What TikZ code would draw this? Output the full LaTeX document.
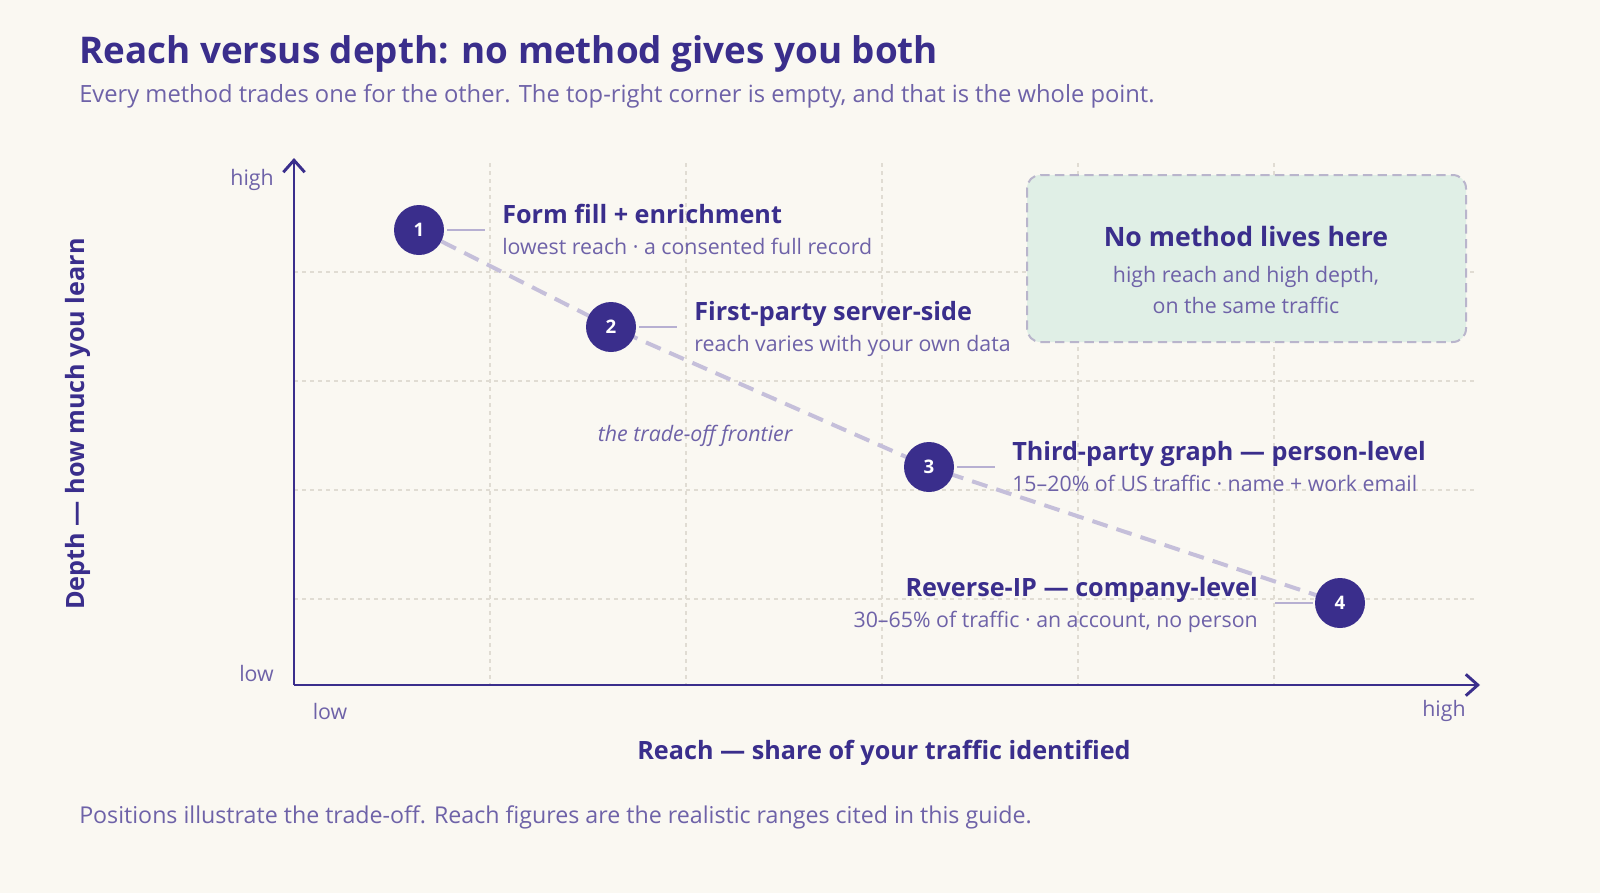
\documentclass[tikz,border=0pt]{standalone}
\usepackage{fontspec}
\setmainfont{Open Sans}
\usetikzlibrary{arrows.meta}
\definecolor{bg}{HTML}{FAF8F2}
\definecolor{ink}{HTML}{3A2E8C}
\definecolor{soft}{HTML}{6E62A8}
\definecolor{grid}{HTML}{E0DCD3}
\definecolor{front}{HTML}{C5BFDA}
\definecolor{boxg}{HTML}{E0EFE6}
\definecolor{boxb}{HTML}{B9B5CC}
\begin{document}
\begin{tikzpicture}[x=0.75pt,y=-0.75pt,
  dot/.style={circle,fill=ink,minimum size=37.5pt,inner sep=0,text=white,font=\bfseries\fontsize{14}{16}\selectfont},
  head/.style={text=ink,font=\bfseries\fontsize{18.9}{21}\selectfont,inner sep=0},
  sub/.style={text=soft,font=\fontsize{16}{18}\selectfont,inner sep=0},
  tick/.style={front!90!ink,line width=1.8pt},
  gl/.style={grid,dashed,line width=0.8pt}]
\fill[bg] (0,0) rectangle (1600,893);
\useasboundingbox (0,0) rectangle (1600,893);
\node[anchor=base west,text=ink,font=\bfseries\fontsize{27.6}{30}\selectfont,inner sep=0] (title) at (79,63) {Reach versus depth: no method gives you both};
\node[anchor=base west,sub,font=\fontsize{17.8}{20}\selectfont] (subt) at (79,102) {Every method trades one for the other. The top-right corner is empty, and that is the whole point.};
% grid
\foreach \x in {490,686,882,1078,1274} \draw[gl] (\x,163) -- (\x,685);
\foreach \y in {272,381,490,599} \draw[gl] (294,\y) -- (1475,\y);
% box
\draw[boxb,fill=boxg,dash pattern=on 7pt off 4pt,line width=1.5pt,rounded corners=10pt] (1027,175) rectangle (1466,342);
\node[head,font=\bfseries\fontsize{20}{22}\selectfont] (bt) at (1246,236) {No method lives here};
\node[sub] (b1) at (1246,277) {high reach and high depth,};
\node[sub] (b2) at (1246,305) {on the same traffic};
% axes
\coordinate (o) at (294,685);
\coordinate (yt) at (294,158);
\coordinate (xt) at (1480,685);
\draw[ink,line width=2.2pt,-{Straight Barb[length=9pt,width=16pt,line width=2.2pt]}] (o) -- (yt);
\draw[ink,line width=2.2pt,-{Straight Barb[length=9pt,width=16pt,line width=2.2pt]}] (o) -- (xt);
\node[sub,anchor=east] (yh) at (274,180) {high};
\node[sub,anchor=east] (yl) at (274,673) {low};
\node[sub] (xl) at (330,711) {low};
\node[sub] (xh) at (1444,711) {high};
\node[head] (xtit) at (884,753) {Reach — share of your traffic identified};
\node[head,rotate=90] (ytit) at (78,424) {Depth — how much you learn};
% dots
\coordinate (c1) at (419,230);
\coordinate (c2) at (611,327);
\coordinate (c3) at (929,467);
\coordinate (c4) at (1340,603);
\draw[front,line width=3pt,dash pattern=on 12pt off 7pt] (c1) -- (c2) -- (c3) -- (c4);
\node[dot] (n1) at (c1) {1};
\node[dot] (n2) at (c2) {2};
\node[dot] (n3) at (c3) {3};
\node[dot] (n4) at (c4) {4};
\node[sub,font=\itshape\fontsize{16}{18}\selectfont] (tf) at (695,436) {the trade-off frontier};
% labels
\draw[tick] (447,230) -- (485,230);
\node[head,anchor=base west] (h1) at (502,223) {Form fill + enrichment};
\node[sub,anchor=base west] (s1) at (502,254) {lowest reach · a consented full record};
\draw[tick] (639,327) -- (677,327);
\node[head,anchor=base west] (h2) at (694,320) {First-party server-side};
\node[sub,anchor=base west] (s2) at (694,351) {reach varies with your own data};
\draw[tick] (957,467) -- (995,467);
\node[head,anchor=base west] (h3) at (1012,460) {Third-party graph — person-level};
\node[sub,anchor=base west] (s3) at (1012,491) {15–20\% of US traffic · name + work email};
\draw[tick] (1275,603) -- (1313,603);
\node[head,anchor=base east] (h4) at (1258,596) {Reverse-IP — company-level};
\node[sub,anchor=base east] (s4) at (1258,627) {30–65\% of traffic · an account, no person};
\node[sub,anchor=base west,font=\fontsize{17.4}{20}\selectfont] (foot) at (79,823) {Positions illustrate the trade-off. Reach figures are the realistic ranges cited in this guide.};
\end{tikzpicture}
\end{document}
